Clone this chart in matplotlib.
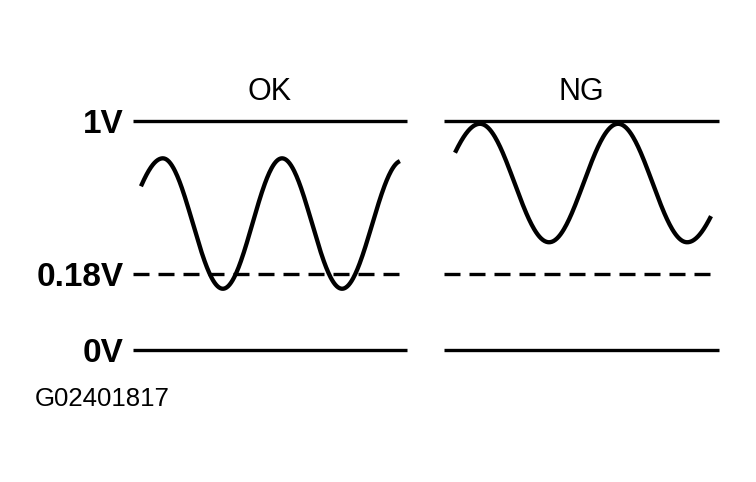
import numpy as np
import matplotlib
matplotlib.use('Agg')
import matplotlib.pyplot as plt

plt.rcParams['font.family'] = ['Liberation Sans', 'DejaVu Sans']

# reference levels (V)
levels = [0, 0.18, 1]
level_labels = ['0V', '0.18V', '1V']
panel_titles = ['OK', 'NG']
figure_code = 'G02401817'

# sensor waveform: start, peaks/troughs, end  (time in % of panel, volts)
ok_t = [2.9, 10.9, 32.8, 54.4, 76.3, 97.4]
ok_v = [0.65, 0.80, 0.145, 0.80, 0.145, 0.785]
ng_t = [4.0, 13.1, 38.2, 63.3, 88.4, 97.1]
ng_v = [0.83, 0.985, 0.35, 0.985, 0.35, 0.49]

# the drawing is not to scale: 0.18V sits about a third of the way up
scale_v = [-1, 0, 0.18, 1, 2]
scale_d = [-1, 0, 0.332, 1, 2]


def fwd(v):
    return np.interp(v, scale_v, scale_d)


def inv(d):
    return np.interp(d, scale_d, scale_v)


def wave(ts, vs, n=80):
    # smooth half-cosine between extremes, partial ones at both ends
    d = fwd(np.array(vs, dtype=float))
    half = ts[2] - ts[1]
    last = len(ts) - 2
    out_t, out_d = [], []
    for i in range(len(ts) - 1):
        t0, t1, d0, d1 = ts[i], ts[i + 1], d[i], d[i + 1]
        tt = np.linspace(t0, t1, n)
        if i == 0:
            amp = (d0 - d1) / ((1 - np.cos(np.pi * (t1 - t0) / half)) / 2)
            dd = d1 + amp * (1 - np.cos(np.pi * (t1 - tt) / half)) / 2
        elif i == last:
            amp = (d1 - d0) / ((1 - np.cos(np.pi * (t1 - t0) / half)) / 2)
            dd = d0 + amp * (1 - np.cos(np.pi * (tt - t0) / half)) / 2
        else:
            dd = d0 + (d1 - d0) * (1 - np.cos(np.pi * (tt - t0) / (t1 - t0))) / 2
        out_t.append(tt)
        out_d.append(dd)
    return np.concatenate(out_t), inv(np.concatenate(out_d))


W, H = 756, 482
fig = plt.figure(figsize=(W / 100, H / 100), dpi=100)

bottom = (H - 350) / H
height = 229 / H
ax_ok = fig.add_axes([133 / W, bottom, 274 / W, height])
ax_ng = fig.add_axes([444 / W, bottom, 275 / W, height])

line_lw = 2.4
wave_lw = 3.1
dash = (16 * 0.72 / line_lw, 9 * 0.72 / line_lw)

for ax, title, ts, vs in [(ax_ok, panel_titles[0], ok_t, ok_v),
                          (ax_ng, panel_titles[1], ng_t, ng_v)]:
    ax.set_yscale('function', functions=(fwd, inv))
    ax.set_xlim(0, 100)
    ax.set_ylim(0, 1)
    for v in levels:
        if v == 0.18:
            ax.axhline(v, color='black', lw=line_lw, dashes=dash,
                       solid_capstyle='butt', dash_capstyle='butt', clip_on=False)
        else:
            ax.axhline(v, color='black', lw=line_lw,
                       solid_capstyle='butt', clip_on=False)
    t, y = wave(ts, vs)
    ax.plot(t, y, color='black', lw=wave_lw, solid_capstyle='butt', clip_on=False)
    ax.set_title(title, fontsize=22, pad=15)
    for s in ax.spines.values():
        s.set_visible(False)
    ax.set_xticks([])
    ax.set_yticks([])
    ax.minorticks_off()

ax_ok.set_yticks(levels, level_labels)
ax_ok.yaxis.set_minor_locator(matplotlib.ticker.NullLocator())
ax_ok.tick_params(axis='y', length=0, pad=7, labelsize=24)
for lab in ax_ok.get_yticklabels():
    lab.set_fontweight('bold')

fig.text(35 / W, (H - 406) / H, figure_code, fontsize=18.5, ha='left', va='baseline')

fig.savefig('out.png', dpi=100)
